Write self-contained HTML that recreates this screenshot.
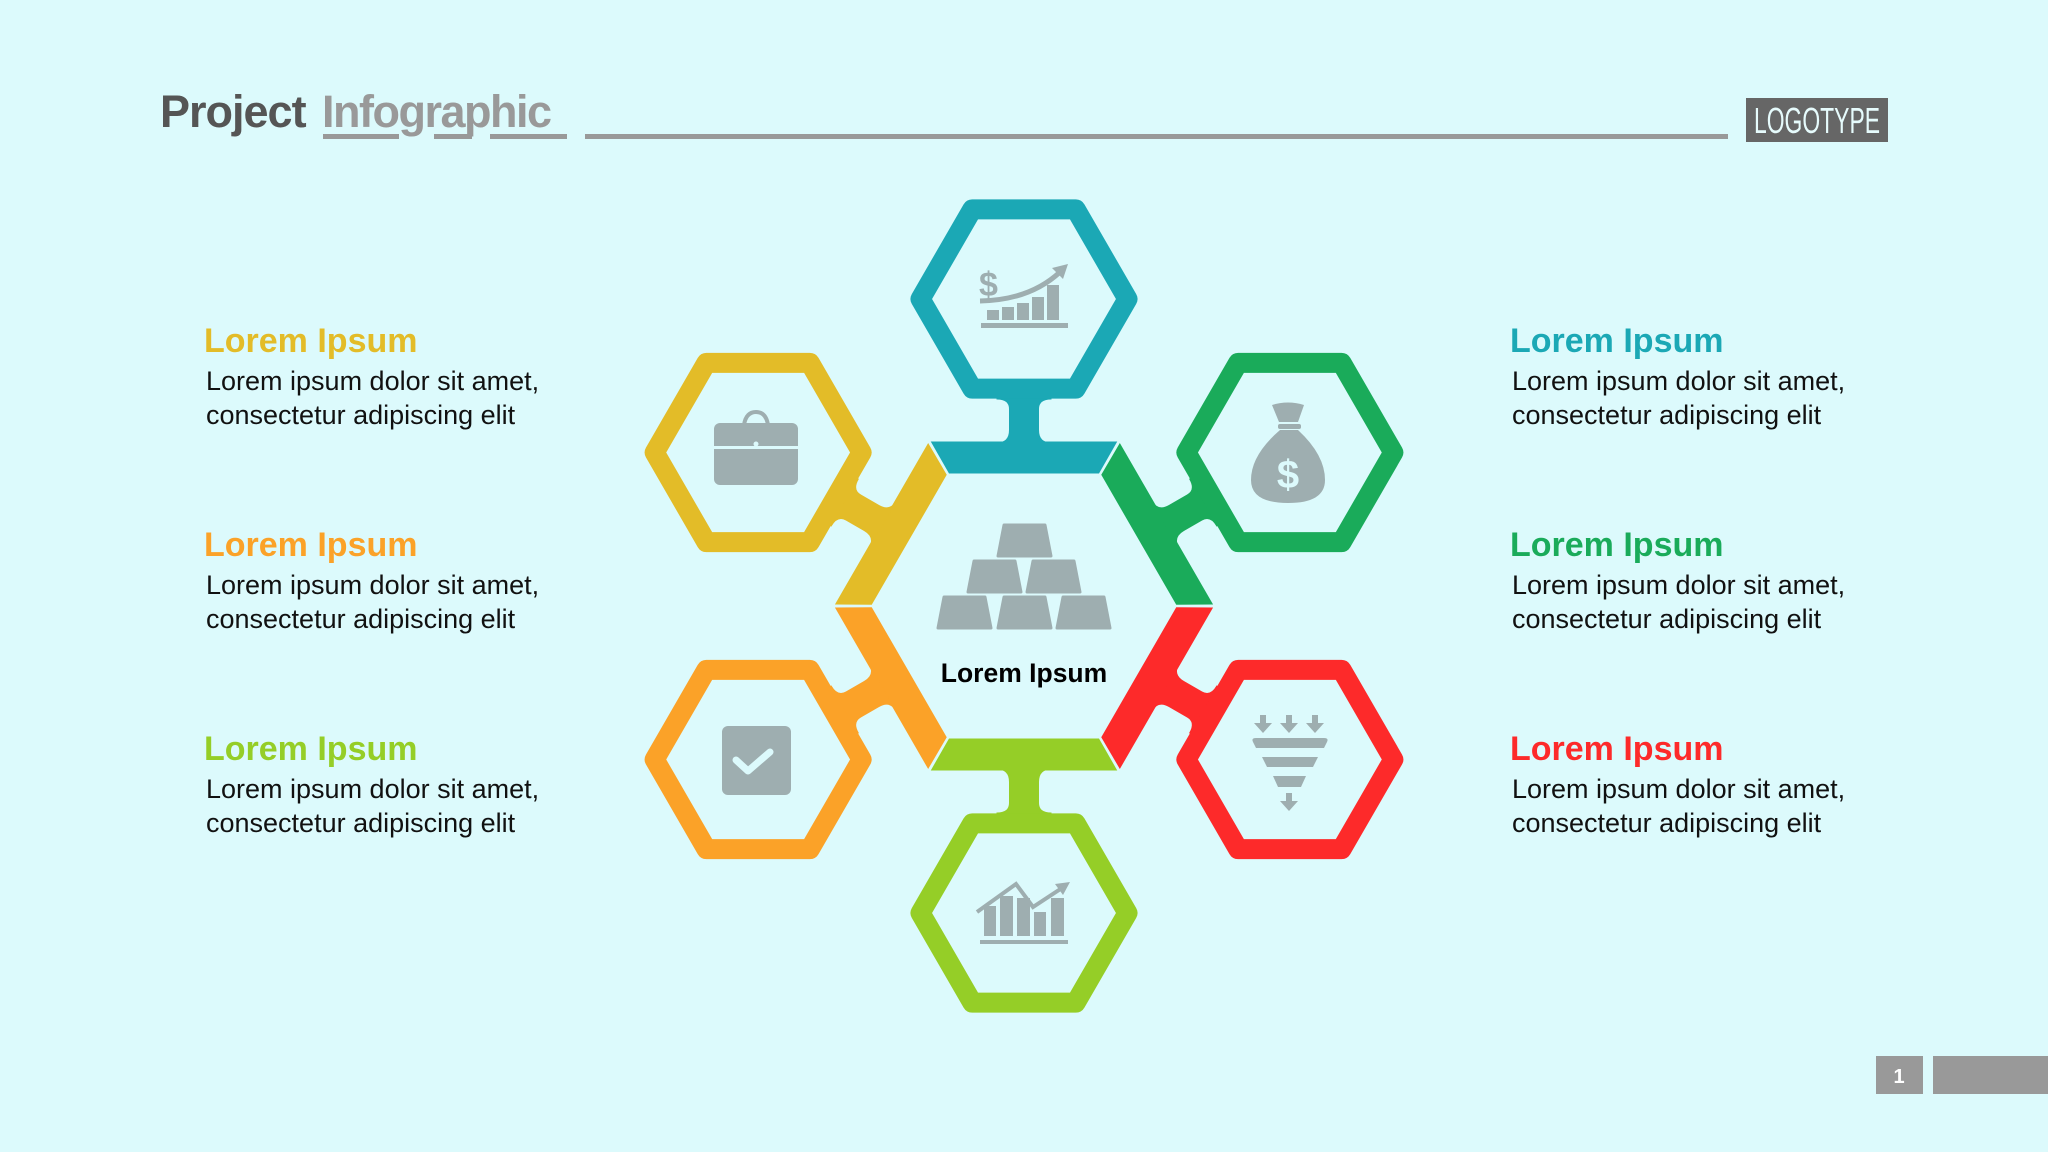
<!DOCTYPE html>
<html><head><meta charset="utf-8"><style>
html,body{margin:0;padding:0}
body{width:2048px;height:1152px;background:#dcfafc;overflow:hidden;position:relative;font-family:"Liberation Sans",sans-serif}
svg{position:absolute;left:0;top:0}
</style></head><body>
<svg width="2048" height="1152" viewBox="0 0 2048 1152" xmlns="http://www.w3.org/2000/svg">
<defs>
<g id="unit">
  <polygon points="-92.4,-164 92.4,-164 74.7,-133 -74.7,-133"/>
  <path d="M-27,-163 Q-14.5,-163 -14.5,-176 L-14.5,-197 Q-14.5,-207 -27,-207 L-27,-214 L27,-214 L27,-207 Q14.5,-207 14.5,-197 L14.5,-176 Q14.5,-163 27,-163 Z"/>
  <polygon points="-103.5,-307 -51.75,-396.6 51.75,-396.6 103.5,-307 51.75,-217.4 -51.75,-217.4" fill="none" stroke-width="20" stroke-linejoin="round"/>
</g>
<polygon id="bar" points="6,1 47,1 53,32 0,32" stroke="#9eaeb0" stroke-width="3" stroke-linejoin="round"/>
</defs>
<!-- title -->
<text x="160" y="127" font-size="45" font-weight="bold" fill="#555" letter-spacing="-1">Project</text>
<text x="322" y="127" font-size="45" font-weight="bold" fill="#999" letter-spacing="-1.5">Infographic</text>
<rect x="323" y="134" width="76" height="5" fill="#999"/>
<rect x="434" y="134" width="38" height="5" fill="#999"/>
<rect x="490" y="134" width="77" height="5" fill="#999"/>
<rect x="585" y="134" width="1143" height="5" fill="#999"/>
<rect x="1746" y="98" width="142" height="44" fill="#666"/>
<text x="1817" y="133" font-size="36" fill="#e6fbfc" text-anchor="middle" font-family="Liberation Sans Narrow, Liberation Sans, sans-serif" textLength="126" lengthAdjust="spacingAndGlyphs">LOGOTYPE</text>
<rect x="1876" y="1056" width="47" height="38" fill="#999"/>
<text x="1899" y="1083" font-size="20" font-weight="bold" fill="#fff" text-anchor="middle">1</text>
<rect x="1933" y="1056" width="115" height="38" fill="#999"/>

<!-- diagram -->
<g transform="translate(1024,606)">
  <use href="#unit" fill="#1ba8b5" stroke="#1ba8b5"/>
  <use href="#unit" fill="#1aab5a" stroke="#1aab5a" transform="rotate(60)"/>
  <use href="#unit" fill="#fd2a2a" stroke="#fd2a2a" transform="rotate(120)"/>
  <use href="#unit" fill="#95ce27" stroke="#95ce27" transform="rotate(180)"/>
  <use href="#unit" fill="#fba228" stroke="#fba228" transform="rotate(240)"/>
  <use href="#unit" fill="#e3bc28" stroke="#e3bc28" transform="rotate(300)"/>
</g>

<g fill="#9eaeb0">
  <!-- gold bars -->
  <use href="#bar" x="998" y="524"/>
  <use href="#bar" x="968" y="560"/>
  <use href="#bar" x="1027" y="560"/>
  <use href="#bar" x="938" y="596"/>
  <use href="#bar" x="998" y="596"/>
  <use href="#bar" x="1057" y="596"/>

  <!-- teal icon -->
  <text x="979" y="296" font-size="34" font-weight="bold">$</text>
  <path d="M980,301 Q1030,300 1060,272" fill="none" stroke="#9eaeb0" stroke-width="5"/>
  <polygon points="1068,264 1052,268 1063,279"/>
  <rect x="987" y="310" width="12" height="10"/>
  <rect x="1002" y="307" width="12" height="13"/>
  <rect x="1017" y="303" width="12" height="17"/>
  <rect x="1032" y="297" width="12" height="23"/>
  <rect x="1047" y="285" width="12" height="35"/>
  <rect x="981" y="323" width="87" height="5"/>

  <!-- briefcase -->
  <path d="M744,425 Q746,412 756,412 Q766,412 768,425" fill="none" stroke="#9eaeb0" stroke-width="4"/>
  <rect x="714" y="423" width="84" height="62" rx="6"/>
  <rect x="714" y="446" width="84" height="3" fill="#dcfafc"/>
  <circle cx="756" cy="444" r="2.5" fill="#dcfafc"/>

  <!-- moneybag -->
  <path d="M1272,405 Q1288,400 1304,405 L1298,422 L1279,422 Z"/>
  <rect x="1278" y="424" width="23" height="5" rx="2"/>
  <path d="M1280,430 L1298,430 Q1325,455 1325,480 Q1325,503 1288,503 Q1251,503 1251,480 Q1251,455 1280,430Z"/>
  <text x="1288" y="488" font-size="40" font-weight="bold" fill="#dcfafc" text-anchor="middle">$</text>

  <!-- check -->
  <rect x="722" y="726" width="69" height="69" rx="6"/>
  <polyline points="736,760 748,771 770,752" fill="none" stroke="#dcfafc" stroke-width="7" stroke-linecap="round" stroke-linejoin="round"/>

  <!-- funnel -->
  <g>
    <rect x="1260" y="715" width="6" height="9"/><polygon points="1254,723 1272,723 1263,733"/>
    <rect x="1286" y="715" width="6" height="9"/><polygon points="1280,723 1298,723 1289,733"/>
    <rect x="1312" y="715" width="6" height="9"/><polygon points="1306,723 1324,723 1315,733"/>
    <path d="M1256,738 L1324,738 Q1329,738 1327,742 L1324,748 L1256,748 L1253,742 Q1251,738 1256,738Z"/>
    <polygon points="1262,757 1318,757 1313,767 1267,767"/>
    <polygon points="1273,776 1306,776 1301,787 1278,787"/>
    <rect x="1286" y="793" width="6" height="9"/><polygon points="1280,801 1298,801 1289,811"/>
  </g>

  <!-- lime chart -->
  <rect x="984" y="906" width="12" height="30"/>
  <rect x="1000" y="896" width="13" height="40"/>
  <rect x="1017" y="898" width="13" height="38"/>
  <rect x="1034" y="912" width="12" height="24"/>
  <rect x="1051" y="898" width="13" height="38"/>
  <rect x="980" y="940" width="88" height="4"/>
  <polyline points="977,912 1016,884 1033,907 1062,888" fill="none" stroke="#9eaeb0" stroke-width="4"/>
  <polygon points="1070,882 1055,884 1063,895"/>
</g>

<text x="1024" y="682" font-size="26.5" font-weight="bold" fill="#000" text-anchor="middle">Lorem Ipsum</text>

<g font-size="34" font-weight="bold">
  <text x="204" y="352" fill="#e3bc28">Lorem Ipsum</text>
  <text x="204" y="556" fill="#fba228">Lorem Ipsum</text>
  <text x="204" y="760" fill="#95ce27">Lorem Ipsum</text>
  <text x="1510" y="352" fill="#1ba8b5">Lorem Ipsum</text>
  <text x="1510" y="556" fill="#1aab5a">Lorem Ipsum</text>
  <text x="1510" y="760" fill="#fd2a2a">Lorem Ipsum</text>
</g>
<g font-size="27" fill="#111">
  <text x="206" y="390">Lorem ipsum dolor sit amet,</text>
  <text x="206" y="424">consectetur adipiscing elit</text>
  <text x="206" y="594">Lorem ipsum dolor sit amet,</text>
  <text x="206" y="628">consectetur adipiscing elit</text>
  <text x="206" y="798">Lorem ipsum dolor sit amet,</text>
  <text x="206" y="832">consectetur adipiscing elit</text>
  <text x="1512" y="390">Lorem ipsum dolor sit amet,</text>
  <text x="1512" y="424">consectetur adipiscing elit</text>
  <text x="1512" y="594">Lorem ipsum dolor sit amet,</text>
  <text x="1512" y="628">consectetur adipiscing elit</text>
  <text x="1512" y="798">Lorem ipsum dolor sit amet,</text>
  <text x="1512" y="832">consectetur adipiscing elit</text>
</g>
</svg>
</body></html>
